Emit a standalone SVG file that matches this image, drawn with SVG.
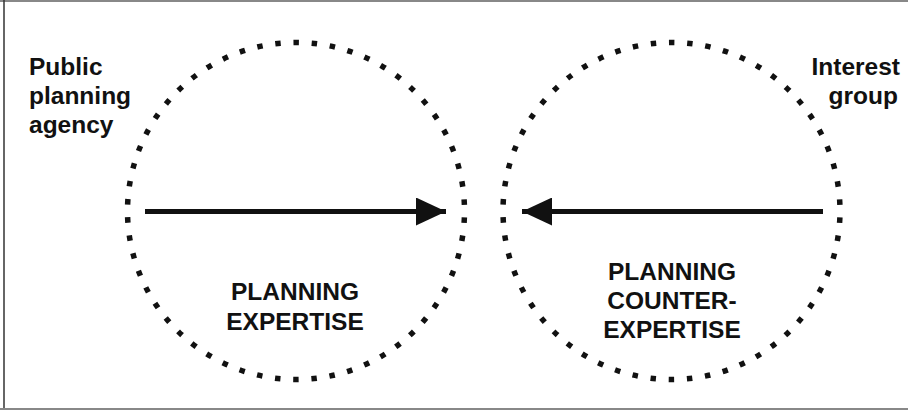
<svg xmlns="http://www.w3.org/2000/svg" width="908" height="413" viewBox="0 0 908 413">
<style>
.ring{fill:none;stroke:#111;stroke-width:5.5;stroke-dasharray:5.5 12.75;stroke-dashoffset:11.85}
.lbl{font-family:"Liberation Sans",Arial,sans-serif;font-weight:bold;font-size:24.5px;fill:#111}
.arr{stroke:#111;stroke-width:5;fill:none}
</style>
<defs>
<marker id="ah" viewBox="0 0 30 28" refX="30" refY="14" markerWidth="30" markerHeight="28" markerUnits="userSpaceOnUse" orient="auto">
<path d="M0,0 L30,14 L0,28 Z" fill="#111"/>
</marker>
</defs>
<rect x="0" y="0" width="908" height="413" fill="#fff"/>
<g id="frame">
<line x1="0" y1="1" x2="908" y2="1" stroke="#888" stroke-width="2"/>
<line x1="4" y1="0" x2="4" y2="410" stroke="#333" stroke-width="1.5"/>
<line x1="0" y1="409" x2="908" y2="409" stroke="#888" stroke-width="2"/>
</g>
<g id="agency-circle">
<circle class="ring" cx="296" cy="211" r="168.5"/>
<text class="lbl" text-anchor="middle"><tspan x="295" y="300">PLANNING</tspan><tspan x="295" y="330">EXPERTISE</tspan></text>
</g>
<g id="interest-circle">
<circle class="ring" cx="671.5" cy="211" r="168.5"/>
<text class="lbl" text-anchor="middle"><tspan x="672" y="280">PLANNING</tspan><tspan x="672" y="309">COUNTER-</tspan><tspan x="672" y="338">EXPERTISE</tspan></text>
</g>
<g id="agency-label">
<text class="lbl"><tspan x="29" y="75">Public</tspan><tspan x="29" y="104">planning</tspan><tspan x="29" y="133">agency</tspan></text>
</g>
<g id="group-label">
<text class="lbl" text-anchor="end"><tspan x="900" y="75">Interest</tspan><tspan x="898" y="104">group</tspan></text>
</g>
<g id="connectors">
<line class="arr" x1="145" y1="211.5" x2="446" y2="211.5" marker-end="url(#ah)"/>
<line class="arr" x1="823" y1="211.5" x2="522" y2="211.5" marker-end="url(#ah)"/>
</g>
</svg>
